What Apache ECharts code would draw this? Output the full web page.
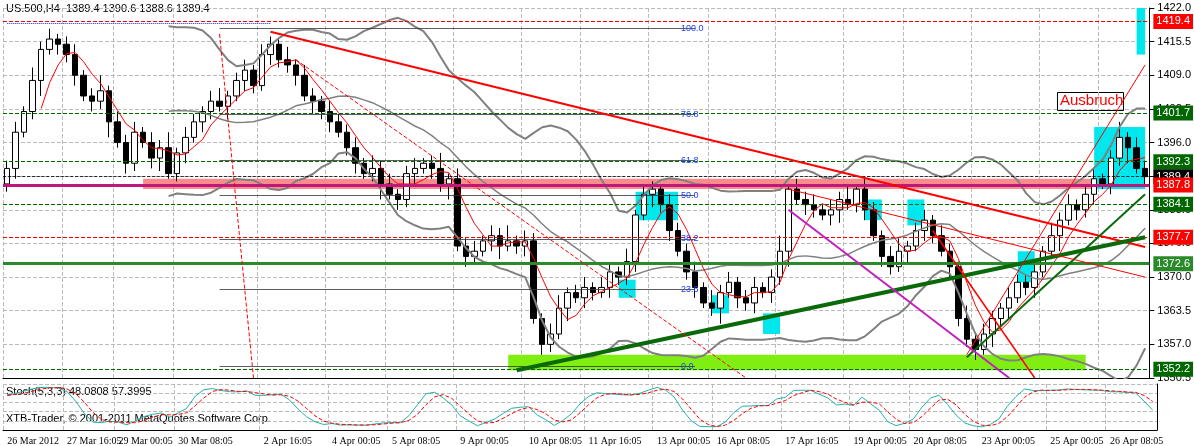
<!DOCTYPE html><html><head><meta charset="utf-8"><script src="https://cdn.jsdelivr.net/npm/echarts@6/dist/echarts.min.js"></script>
<style>body{margin:0;background:#fff}#c{width:1194px;height:446px}</style></head><body><div id="c"></div><script>
const closes=[1391,1398,1402,1408,1414,1416,1415,1413,1409,1405,
1404,1406,1400,1396,1392,1398,1396,1393,1395,1390,
1394,1397,1400,1402,1404,1403,1405,1408,1410,1407,
1413,1415,1412,1411,1409,1405,1404,1402,1400,1398,
1395,1392,1390,1391,1388,1386,1385,1390,1391,1392,
1391,1388,1389,1376,1374,1375,1377,1378,1376,1377,
1376,1377,1362,1357,1359,1364,1367,1366,1368,1367,
1368,1371,1370,1373,1382,1386,1387,1384,1379,1375,
1371,1368,1365,1364,1367,1369,1366,1365,1368,1367,
1370,1375,1387,1385,1384,1383,1382,1383,1385,1384,
1387,1383,1378,1374,1372,1375,1376,1379,1381,1378,
1375,1372,1362,1358,1356,1359,1362,1364,1366,1369,
1368,1371,1375,1378,1381,1384,1383,1386,1389,1388,
1393,1397,1395,1391,1389.4];
const wicks=[1.5,2,1,2.5,1.5,2,1,1.5,2,1,1.5,3,1,2,1.5,2,1,2,1.5,3,1,2,1.5,1,2,2.5,1,1.5,2,1,2,1.5,1,2.5,1,2,1.5,1,2,1.5];
const tickLabels=['26 Mar 2012','27 Mar 16:05','29 Mar 00:05','30 Mar 08:05','2 Apr 16:05','4 Apr 00:05','5 Apr 08:05','9 Apr 00:05','10 Apr 08:05','11 Apr 16:05','13 Apr 00:05','16 Apr 08:05','17 Apr 16:05','19 Apr 00:05','20 Apr 08:05','23 Apr 00:05','25 Apr 00:05','26 Apr 08:05'];
const tickIdx=[0,7,13,20,30,38,45,53,61,68,76,83,91,99,106,114,122,129];
const N=closes.length;
const cats=[],ohlc=[],hi=[],lo=[];
for(let i=0;i<N;i++){const o=i?closes[i-1]:1388,c=closes[i];const w=wicks[i%wicks.length];const h=Math.max(o,c)+w,l=Math.min(o,c)-wicks[(i+7)%wicks.length];
 ohlc.push([o,c,l,h]);hi.push(h);lo.push(l);const k=tickIdx.indexOf(i);cats.push(k>=0?tickLabels[k]:'b'+i);}
function sma(a,n){return a.map((v,i)=>i<n-1?null:+(a.slice(i-n+1,i+1).reduce((s,x)=>s+x,0)/n).toFixed(2));}
const ma=sma(closes,5),mid=sma(closes,20);
const up=[],dn=[];
for(let i=0;i<N;i++){if(mid[i]==null){up.push(null);dn.push(null);continue;}const s=closes.slice(i-19,i+1);const sd=Math.sqrt(s.reduce((a,x)=>a+(x-mid[i])**2,0)/20);up.push(+(mid[i]+2*sd).toFixed(2));dn.push(+(mid[i]-2*sd).toFixed(2));}
const kraw=[];for(let i=0;i<N;i++){const a=Math.max(0,i-4);const H=Math.max(...hi.slice(a,i+1)),L=Math.min(...lo.slice(a,i+1));kraw.push(H>L?(closes[i]-L)/(H-L)*100:50);}
const kk=kraw.map((v,i)=>{const s=kraw.slice(Math.max(0,i-2),i+1);return s.reduce((a,x)=>a+x,0)/s.length;});
const dd=kk.map((v,i)=>{const s=kk.slice(Math.max(0,i-2),i+1);return s.reduce((a,x)=>a+x,0)/s.length;});
const hLines=[[1419.4,'#f00','dashed',1,'#f00'],[1401.7,'#060','dashed',1,'#060'],[1392.3,'#060','dashed',1,'#060'],[1384.1,'#060','dashed',1,'#060'],[1352.2,'#060','dashed',1,'#060'],[1377.7,'#f00','dashed',1,'#f00'],[1389.4,'#000','dashed',0.8,'#000'],[1372.6,'#2a8a2a','solid',3,'#2a8a2a'],[1387.8,'#c0187a','solid',3,'#f00']];
const fib=[[1418.1,'100.0'],[1401.5,'76.8'],[1392.6,'61.8'],[1385.8,'50.0'],[1377.4,'38.2'],[1367.6,'23.6'],[1352.8,'0.0']];
function seg(a,b,c,d,color,w,type){return [{coord:[a,b],lineStyle:{color,width:w,type}},{coord:[c,d]}];}
const mlData=[];
hLines.forEach(h=>mlData.push({yAxis:h[0],lineStyle:{color:h[1],type:h[2],width:h[3]},label:{show:true,position:'end',formatter:String(h[0]),color:'#fff',backgroundColor:h[4],padding:[2,3],fontSize:11,distance:4}}));
fib.forEach(f=>mlData.push([{coord:[25,f[0]],lineStyle:{color:'#333',width:0.8,type:'solid'},label:{show:true,position:'end',formatter:f[1],color:'#2040ff',fontSize:9,distance:-14}},{coord:[81,f[0]]}]));
mlData.push(seg(31,1417.4,134,1375.8,'#f00',2,'solid'));
mlData.push(seg(60,1352.0,134,1377.7,'#0a6a0a',4,'solid'));
mlData.push(seg(113,1354.5,134,1386,'#0a6a0a',2,'solid'));
mlData.push(seg(92,1383,118,1350.5,'#c020c0',2,'solid'));
mlData.push(seg(109,1379,121,1350.5,'#f00',1.5,'solid'));
mlData.push(seg(92,1387,134,1370,'#f00',1,'solid'));
mlData.push(seg(113,1355,134,1411,'#f00',1,'solid'));
mlData.push(seg(34,1412,87,1350.5,'#f00',1,'dashed'));
mlData.push(seg(0,1419,31,1419,'#22f',1,'dotted'));
mlData.push(seg(25,1417,29,1350.5,'#f00',1,'dashed'));
const boxes=[[74,1386.5,79,1381],[128,1399,134,1387],[133,1422,136,1413],[89,1363,91,1359],[101,1385,103,1381],[106,1385,108,1380],[119,1375,121,1369],[83,1366.5,85,1363],[72,1369.5,74,1366],[134,1384.5,136,1382]];
const ma2=[[{coord:[59,1355],itemStyle:{color:'#80ee10'}},{coord:[127,1352]}],[{coord:[16,1389],itemStyle:{color:'rgba(250,120,120,0.85)'}},{coord:[136,1387]}]];
boxes.forEach(b=>ma2.push([{coord:[b[0],b[1]],itemStyle:{color:'#00e8ee'}},{coord:[b[2],b[3]]}]));
const chart=echarts.init(document.getElementById('c'));
const ax={type:'dashed',color:'#bbb'};
const showT=(i)=>tickIdx.includes(i);
chart.setOption({animation:false,
grid:[{left:3,right:37,top:8,height:370},{left:3,right:37,top:384,height:46}],
xAxis:[{type:'category',data:cats,gridIndex:0,boundaryGap:true,axisLabel:{show:false},axisTick:{show:false},axisLine:{lineStyle:{color:'#000'}},splitLine:{show:true,interval:showT,lineStyle:ax}},
{type:'category',data:cats,gridIndex:1,axisLabel:{interval:showT,showMinLabel:true,hideOverlap:false,formatter:v=>v.startsWith('b')?'':v,fontSize:10,color:'#000',fontFamily:'Liberation Sans Narrow',align:'left',margin:6},axisTick:{interval:showT,alignWithLabel:true},axisLine:{lineStyle:{color:'#000'}},splitLine:{show:true,interval:showT,lineStyle:ax}}],
yAxis:[{position:'right',min:1350.5,max:1422,interval:6.5,gridIndex:0,axisLine:{show:true,lineStyle:{color:'#000'}},axisTick:{show:true},axisLabel:{color:'#000',fontSize:11,fontFamily:'Liberation Sans',formatter:v=>v.toFixed(1)},splitLine:{lineStyle:ax}},
{position:'right',min:0,max:100,gridIndex:1,interval:20,axisLine:{show:true,lineStyle:{color:'#000'}},axisLabel:{show:false},splitLine:{lineStyle:ax}}],
series:[
{type:'candlestick',data:ohlc,barWidth:6,itemStyle:{color:'#fff',color0:'#000',borderColor:'#000',borderColor0:'#000',borderWidth:1},
 markArea:{silent:true,data:ma2},markLine:{silent:true,symbol:'none',data:mlData}},
{type:'line',data:up,symbol:'none',lineStyle:{color:'#808080',width:2},z:3},
{type:'line',data:mid,symbol:'none',lineStyle:{color:'#808080',width:1.5},z:3},
{type:'line',data:dn,symbol:'none',lineStyle:{color:'#808080',width:2},z:3},
{type:'line',data:ma,symbol:'none',lineStyle:{color:'#f00',width:1},z:3},
{type:'line',data:kk,xAxisIndex:1,yAxisIndex:1,symbol:'none',lineStyle:{color:'#20b2aa',width:1}},
{type:'line',data:dd,xAxisIndex:1,yAxisIndex:1,symbol:'none',lineStyle:{color:'#f00',width:1,type:'dashed'}}],
graphic:[{type:'text',left:6,top:3,style:{text:'US.500,H4  1389.4 1390.6 1388.6 1389.4',fontSize:11,fill:'#000',font:'11px Liberation Sans'}},
{type:'text',left:6,top:386,style:{text:'Stoch(5,3,3) 48.0808 57.3995',font:'11px Liberation Sans',fill:'#000'}},
{type:'text',left:6,top:413,style:{text:'XTB-Trader, © 2001-2011 MetaQuotes Software Corp.',font:'11px Liberation Sans',fill:'#000'}},
{type:'rect',left:1057,top:92,shape:{width:66,height:18},style:{fill:'#fff',stroke:'#000'}},
{type:'text',left:1060,top:93,style:{text:'Ausbruch',font:'15px Liberation Sans',fill:'#f00'}}]
});
</script></body></html>
